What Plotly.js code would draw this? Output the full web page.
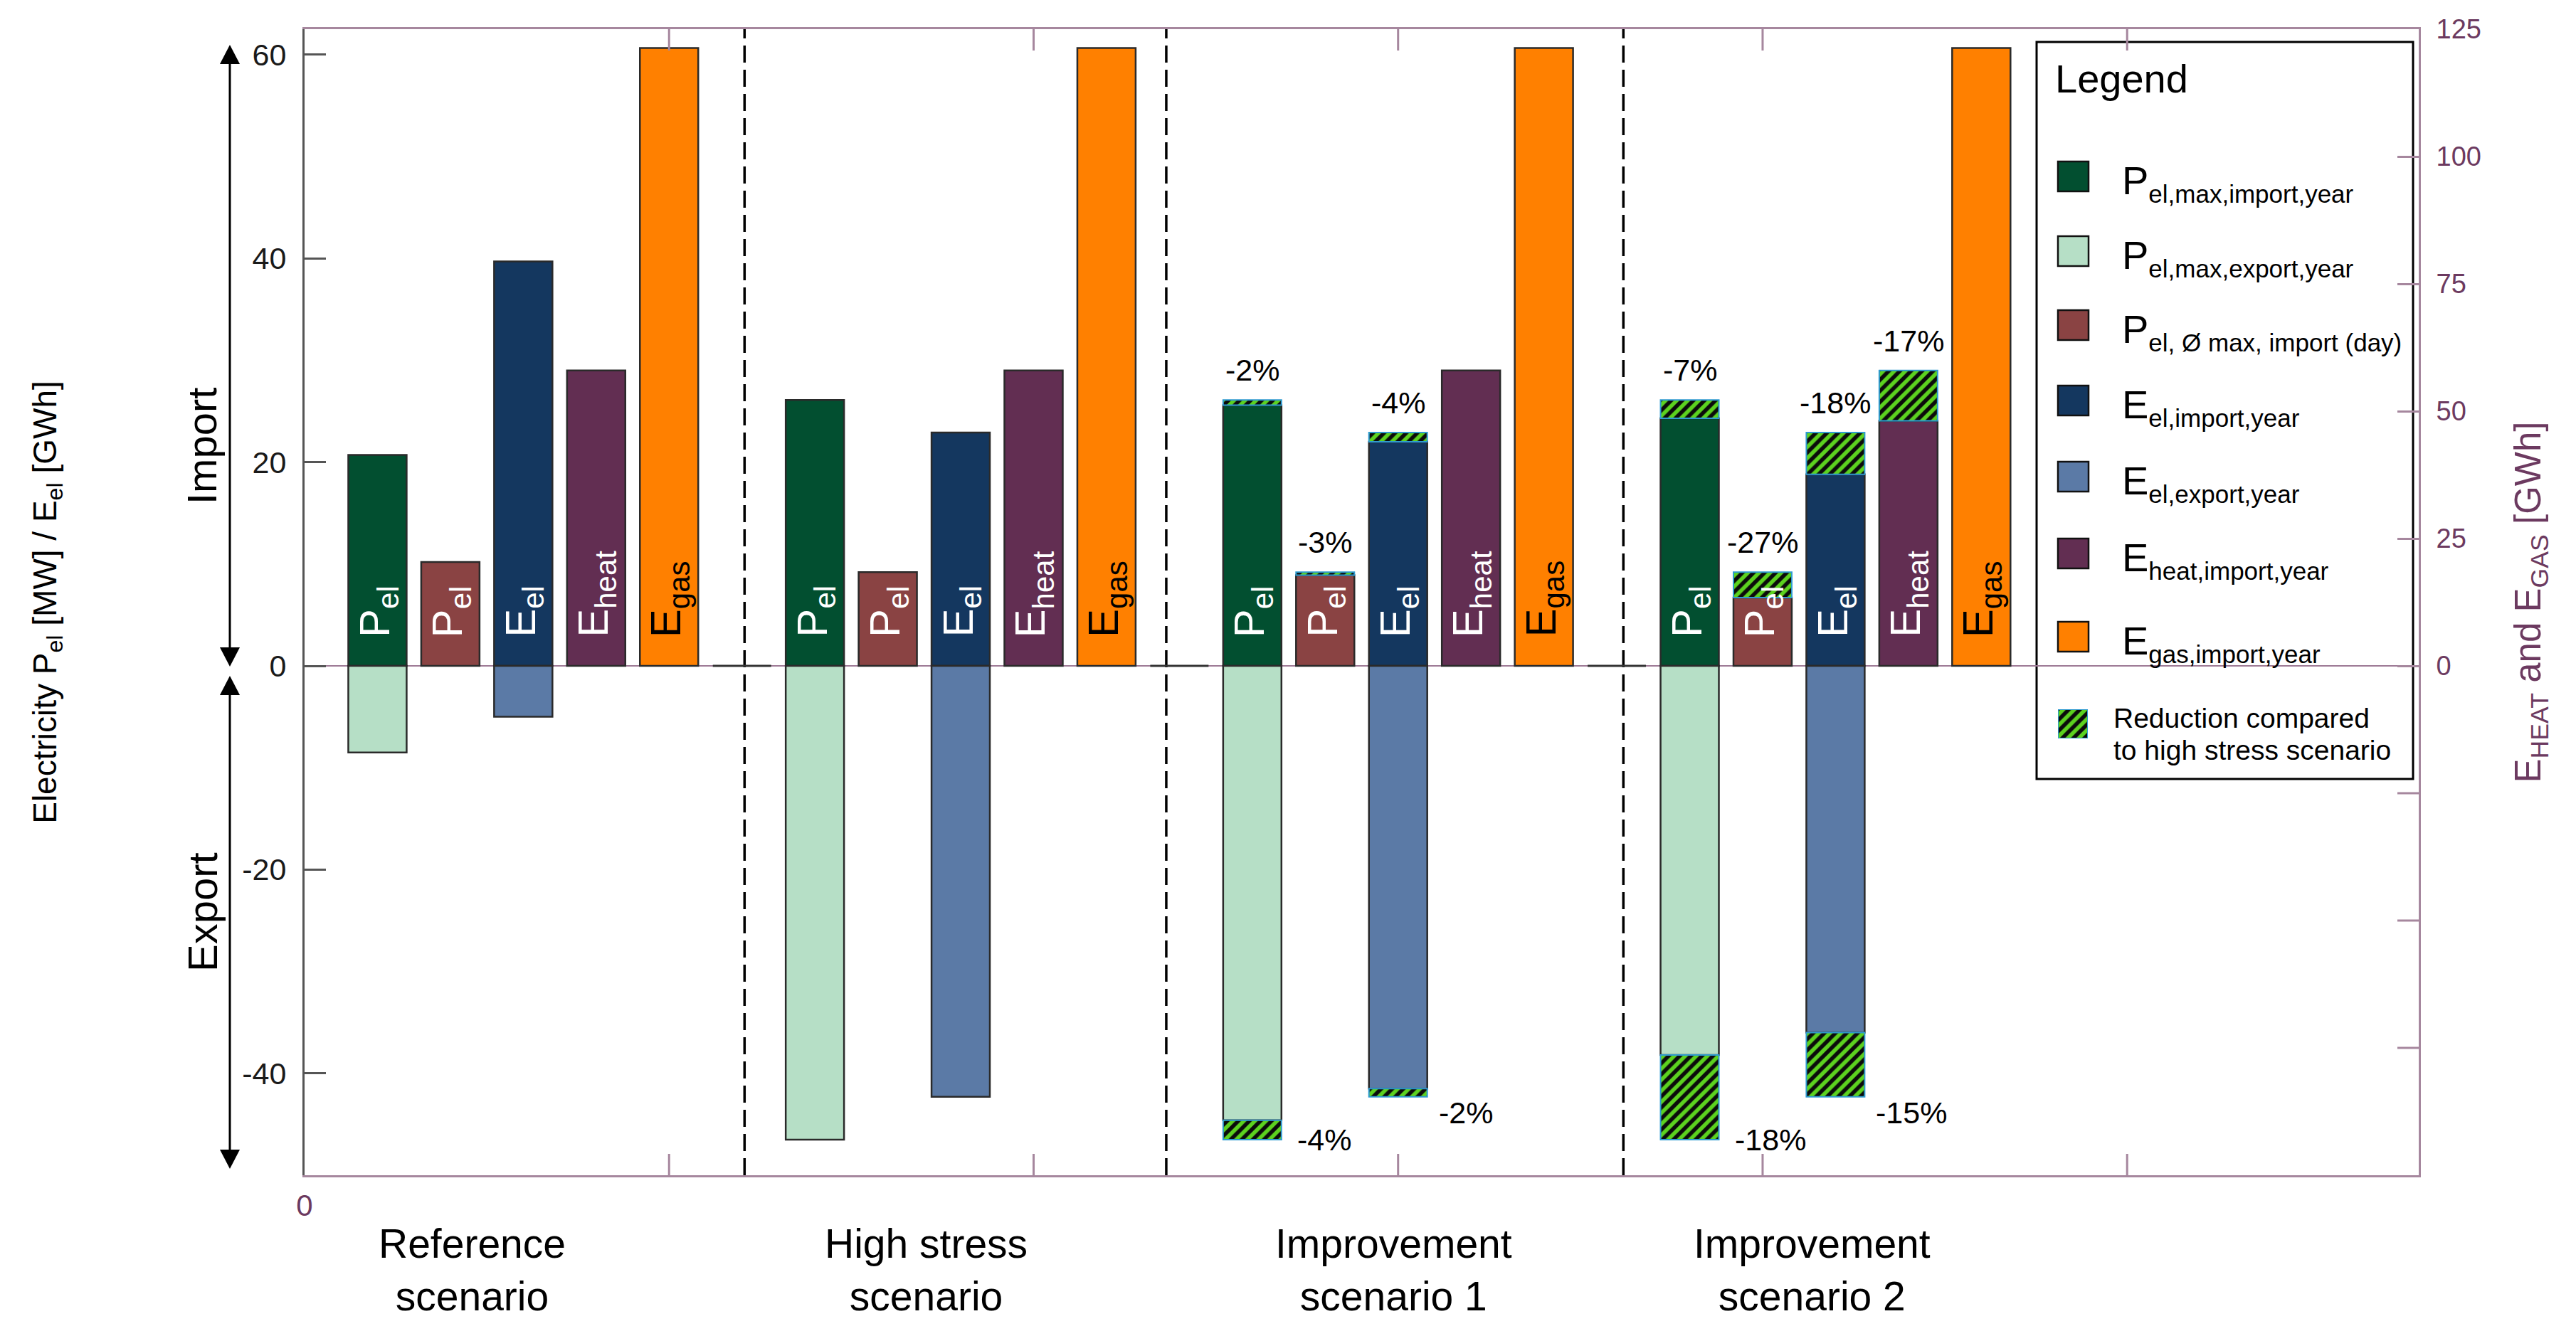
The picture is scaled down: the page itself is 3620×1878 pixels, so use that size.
<!DOCTYPE html>
<html>
<head>
<meta charset="utf-8">
<script src="https://cdn.plot.ly/plotly-3.0.1.min.js"></script>
<style>html,body{margin:0;padding:0;background:#fff;}#chart{width:3620px;height:1878px;}</style>
</head>
<body>
<div id="chart"></div>
<script>
// ---------------- DATA ----------------
const scenarios = ['Reference<br>scenario', 'High stress<br>scenario', 'Improvement<br>scenario 1', 'Improvement<br>scenario 2'];
// left axis: MW / GWh (electricity)
const pelMaxImport   = [20.7, 26.1, 25.6, 24.3];
const pelMaxExport   = [-8.5, -46.5, -44.6, -38.2];
const pelDayImport   = [10.2, 9.2, 8.9, 6.7];
const eelImport      = [39.7, 22.9, 22.0, 18.8];
const eelExport      = [-5.0, -42.3, -41.5, -36.0];
// right axis: GWh
const eheatImport    = [58.0, 58.0, 58.0, 48.1];
const egasImport     = [121.3, 121.3, 121.3, 121.3];
// reduction labels (percent vs. high stress scenario)
const pctPelMaxImport = [null, null, -2, -7];
const pctPelDayImport = [null, null, -3, -27];
const pctEelImport    = [null, null, -4, -18];
const pctEheatImport  = [null, null, null, -17];
const pctPelMaxExport = [null, null, -4, -18];
const pctEelExport    = [null, null, -2, -15];
const HS = 1; // index of high stress scenario
// axis tick labels
const leftTicks  = [-40, -20, 0, 20, 40, 60];
const leftTickText = ['-40', '-20', '0', '20', '40', '60'];
const rightTicks = [0, 25, 50, 75, 100, 125];
const rightMinorTicks = [-25, -50, -75];
const xTicks = [1, 2, 3, 4, 5];

// ---------------- STYLE / GEOMETRY ----------------
const FONT = 'Liberation Sans, Arial, Helvetica, sans-serif';
const C = {
  pelImp: '#024f30', pelExp: '#b6dfc6', pelDay: '#8a4343',
  eelImp: '#14375f', eelExp: '#5b7aa6', heat: '#622e52', gas: '#ff8000',
  hatchBg: '#5cd21f', hatchFg: '#0b0b0b', hatchLine: '#2f9bd0',
  purpleLine: '#a6879e', purpleText: '#6c3a60', gray: '#555555'
};
const L = 428, R = 3399, T = 41, B = 1652, W = R - L, H = B - T;
const fx = px => (px - L) / W;
const fy = py => (B - py) / H;
const BW = 0.16;
const slotX = (g, s) => Math.round((0.2 + 1.2 * g + 0.2 * s) * 1000) / 1000;
const idx = [0, 1, 2, 3];

function base(name, slot, vals, color, yaxis) {
  return {
    type: 'bar', name: name, x: idx.map(g => slotX(g, slot)), y: vals,
    width: idx.map(() => BW), yaxis: yaxis || 'y',
    marker: { color: color, line: { color: '#2a2a2a', width: 2.5 } },
    hoverinfo: 'x+y'
  };
}
const hatchMarker = {
  color: C.hatchBg,
  line: { color: C.hatchLine, width: 2 },
  pattern: { shape: '/', fgcolor: C.hatchFg, bgcolor: C.hatchBg, size: 11, solidity: 0.5 }
};
function reduction(name, list, yaxis) {
  const xs = [], ys = [];
  list.forEach(([slot, vals]) => {
    [2, 3].forEach(g => {
      const d = Math.round((vals[HS] - vals[g]) * 100) / 100;
      if (d !== 0) { xs.push(slotX(g, slot)); ys.push(d); }
    });
  });
  return { type: 'bar', name: name, x: xs, y: ys, width: xs.map(() => BW), yaxis: yaxis || 'y', marker: hatchMarker, hoverinfo: 'x+y' };
}

const traces = [
  base('P el,max,import,year', 0, pelMaxImport, C.pelImp),
  base('P el,max,export,year', 0, pelMaxExport, C.pelExp),
  base('P el, Ø max, import (day)', 1, pelDayImport, C.pelDay),
  base('E el,import,year', 2, eelImport, C.eelImp),
  base('E el,export,year', 2, eelExport, C.eelExp),
  base('E heat,import,year', 3, eheatImport, C.heat, 'y2'),
  base('E gas,import,year', 4, egasImport, C.gas, 'y2'),
  reduction('Reduction (import)', [[0, pelMaxImport], [1, pelDayImport], [2, eelImport]]),
  reduction('Reduction (export)', [[0, pelMaxExport], [2, eelExport]]),
  reduction('Reduction (heat)', [[3, eheatImport]], 'y2'),
  // legend swatch for the hatched reduction (mini axis)
  { type: 'bar', x: [0], y: [1], width: [1], xaxis: 'x3', yaxis: 'y3', marker: hatchMarker, hoverinfo: 'skip', name: 'Reduction compared to high stress scenario' }
];

// ---------------- ANNOTATIONS ----------------
const ann = [];
const inLabels = [
  ['P<sub>el</sub>', 0, '#ffffff'], ['P<sub>el</sub>', 1, '#ffffff'], ['E<sub>el</sub>', 2, '#ffffff'],
  ['E<sub>heat</sub>', 3, '#ffffff'], ['E<sub>gas</sub>', 4, '#000000']
];
idx.forEach(g => inLabels.forEach(([txt, s, col]) => {
  ann.push({ xref: 'x', yref: 'y', x: slotX(g, s), y: 0, text: txt, textangle: -90, showarrow: false,
    xanchor: 'center', yanchor: 'bottom', yshift: 38, font: { family: FONT, size: 60, color: col } });
}));
function pctTop(pcts, vals, slot, yref) {
  idx.forEach(g => { if (pcts[g] === null) return;
    ann.push({ xref: 'x', yref: yref, x: slotX(g, slot), y: vals[HS], text: pcts[g] + '%', showarrow: false,
      xanchor: 'center', yanchor: 'bottom', yshift: 16, font: { family: FONT, size: 43, color: '#000' } });
  });
}
pctTop(pctPelMaxImport, pelMaxImport, 0, 'y');
pctTop(pctPelDayImport, pelDayImport, 1, 'y');
pctTop(pctEelImport, eelImport, 2, 'y');
pctTop(pctEheatImport, eheatImport, 3, 'y2');
function pctBottom(pcts, vals, slot, xs, ys) {
  idx.forEach(g => { if (pcts[g] === null) return;
    ann.push({ xref: 'x', yref: 'y', x: slotX(g, slot) + BW / 2, y: vals[HS], text: pcts[g] + '%', showarrow: false,
      xanchor: 'left', yanchor: 'middle', xshift: xs, yshift: ys, font: { family: FONT, size: 43, color: '#000' } });
  });
}
pctBottom(pctPelMaxExport, pelMaxExport, 0, 20, 0);
pctBottom(pctEelExport, eelExport, 2, 14, -22);

// scenario labels
const catX = [0.46, 1.705, 2.987, 4.135];
scenarios.forEach((s, i) => ann.push({ xref: 'x', yref: 'paper', x: catX[i], y: fy(1714), text: s, showarrow: false,
  xanchor: 'center', yanchor: 'top', align: 'center', font: { family: FONT, size: 57, color: '#000' } }));

// Import / Export
ann.push({ xref: 'paper', yref: 'paper', x: fx(284), y: fy(627), text: 'Import', textangle: -90, showarrow: false, xanchor: 'center', yanchor: 'middle', font: { family: FONT, size: 58, color: '#000' } });
ann.push({ xref: 'paper', yref: 'paper', x: fx(284), y: fy(1282), text: 'Export', textangle: -90, showarrow: false, xanchor: 'center', yanchor: 'middle', font: { family: FONT, size: 58, color: '#000' } });

// legend texts
const sub = t => '<sub><span style="font-size:35px">' + t + '</span></sub>';
ann.push({ xref: 'paper', yref: 'paper', x: fx(2886), y: fy(110), text: 'Legend', showarrow: false, xanchor: 'left', yanchor: 'middle', font: { family: FONT, size: 56, color: '#000' } });
const legItems = [
  ['P' + sub('el,max,import,year'), C.pelImp, 248],
  ['P' + sub('el,max,export,year'), C.pelExp, 353],
  ['P' + sub('el, Ø max, import (day)'), C.pelDay, 457],
  ['E' + sub('el,import,year'), C.eelImp, 563],
  ['E' + sub('el,export,year'), C.eelExp, 670],
  ['E' + sub('heat,import,year'), C.heat, 778],
  ['E' + sub('gas,import,year'), C.gas, 895]
];
legItems.forEach(([txt, col, cy]) => ann.push({ xref: 'paper', yref: 'paper', x: fx(2980), y: fy(cy), text: txt, showarrow: false,
  xanchor: 'left', yanchor: 'middle', yshift: -9, font: { family: FONT, size: 56, color: '#000' } }));
ann.push({ xref: 'paper', yref: 'paper', x: fx(2968), y: fy(1009), text: 'Reduction compared', showarrow: false, xanchor: 'left', yanchor: 'middle', font: { family: FONT, size: 39, color: '#000' } });
ann.push({ xref: 'paper', yref: 'paper', x: fx(2968), y: fy(1054), text: 'to high stress scenario', showarrow: false, xanchor: 'left', yanchor: 'middle', font: { family: FONT, size: 39, color: '#000' } });

// ---------------- SHAPES ----------------
const shapes = [];
shapes.push({ type: 'line', xref: 'x', yref: 'y', x0: 0, x1: 5.8, y0: 0, y1: 0, line: { color: '#9e7a96', width: 2 }, layer: 'below' });
[1.2, 2.4, 3.6].forEach(s => shapes.push({ type: 'line', xref: 'x', yref: 'y', x0: s - BW / 2, x1: s + BW / 2, y0: 0, y1: 0, line: { color: '#333', width: 3 }, layer: 'below' }));
[1.207, 2.364, 3.618].forEach(x => shapes.push({ type: 'line', xref: 'x', yref: 'paper', x0: x, x1: x, y0: 0, y1: 1, line: { color: '#000', width: 3.5, dash: '24px,10px' }, layer: 'below' }));
// legend box
shapes.push({ type: 'rect', xref: 'paper', yref: 'paper', x0: fx(2862), x1: fx(3391), y0: fy(1095), y1: fy(59), fillcolor: '#ffffff', line: { color: '#000', width: 3 }, layer: 'below' });
legItems.forEach(([txt, col, cy]) => shapes.push({ type: 'rect', xref: 'paper', yref: 'paper', x0: fx(2892), x1: fx(2935), y0: fy(cy + 21), y1: fy(cy - 21), fillcolor: col, line: { color: '#111', width: 2.5 }, layer: 'below' }));
// unlabeled ticks: x axis (bottom and top), right axis negative side
const tk = 30;
xTicks.forEach(v => {
  shapes.push({ type: 'line', xref: 'x', yref: 'paper', x0: v, x1: v, y0: 0, y1: tk / H, line: { color: C.purpleLine, width: 3 } });
  shapes.push({ type: 'line', xref: 'x', yref: 'paper', x0: v, x1: v, y0: 1, y1: 1 - tk / H, line: { color: C.purpleLine, width: 3 } });
});
rightMinorTicks.forEach(v => shapes.push({ type: 'line', xref: 'paper', yref: 'y2', x0: 1, x1: 1 - tk / W, y0: v, y1: v, line: { color: C.purpleLine, width: 3 } }));
// arrows
function arrow(xc, yTop, yBot) {
  const hw = 14, hl = 27;
  shapes.push({ type: 'line', xref: 'paper', yref: 'paper', x0: fx(xc), x1: fx(xc), y0: fy(yTop + hl - 2), y1: fy(yBot - hl + 2), line: { color: '#000', width: 3 } });
  shapes.push({ type: 'path', xref: 'paper', yref: 'paper', path: `M${fx(xc)},${fy(yTop)} L${fx(xc - hw)},${fy(yTop + hl)} L${fx(xc + hw)},${fy(yTop + hl)} Z`, fillcolor: '#000', line: { width: 0 } });
  shapes.push({ type: 'path', xref: 'paper', yref: 'paper', path: `M${fx(xc)},${fy(yBot)} L${fx(xc - hw)},${fy(yBot - hl)} L${fx(xc + hw)},${fy(yBot - hl)} Z`, fillcolor: '#000', line: { width: 0 } });
}
arrow(323, 63, 937);
arrow(323, 950, 1643);

// ---------------- LAYOUT ----------------
const layout = {
  width: 3620, height: 1878,
  margin: { l: L, r: 3620 - R, t: T, b: 1878 - B, autoexpand: false },
  paper_bgcolor: '#ffffff', plot_bgcolor: '#ffffff',
  barmode: 'relative', showlegend: false,
  font: { family: FONT, color: '#000' },
  xaxis: {
    range: [0, 5.8], showgrid: false, zeroline: false, showline: true, linecolor: C.purpleLine, linewidth: 3,
    mirror: true, ticks: '', tickvals: [0], ticktext: ['0'],
    tickfont: { family: FONT, size: 42, color: C.purpleText }, ticklabelstandoff: 4, automargin: false
  },
  yaxis: {
    range: [-50, 62.5], showgrid: false, zeroline: false, showline: true, linecolor: C.gray, linewidth: 3,
    ticks: 'inside', ticklen: 30, tickwidth: 3, tickcolor: C.gray,
    tickvals: leftTicks, ticktext: leftTickText, tickfont: { family: FONT, size: 43, color: '#1a1a1a' }, ticklabelstandoff: 14,
    title: { text: 'Electricity P<sub>el</sub> [MW] / E<sub>el</sub> [GWh]', font: { family: FONT, size: 46, color: '#000' }, standoff: 247 },
    automargin: false
  },
  yaxis2: {
    overlaying: 'y', side: 'right', range: [-100, 125], showgrid: false, zeroline: false, showline: true,
    linecolor: C.purpleLine, linewidth: 3, ticks: 'inside', ticklen: 30, tickwidth: 3, tickcolor: C.purpleLine,
    tickvals: rightTicks, ticktext: rightTicks.map(String),
    tickfont: { family: FONT, size: 38, color: C.purpleText }, ticklabelstandoff: 14,
    title: { text: 'E<sub>HEAT</sub> and E<sub>GAS</sub> [GWh]', font: { family: FONT, size: 51, color: C.purpleText }, standoff: 49 },
    automargin: false
  },
  xaxis3: { domain: [fx(2892), fx(2934)], anchor: 'y3', range: [-0.5, 0.5], visible: false, fixedrange: true },
  yaxis3: { domain: [fy(1038), fy(997)], anchor: 'x3', range: [0, 1], visible: false, fixedrange: true },
  annotations: ann,
  shapes: shapes
};

Plotly.newPlot('chart', traces, layout, { displayModeBar: false, staticPlot: true });
</script>
</body>
</html>
